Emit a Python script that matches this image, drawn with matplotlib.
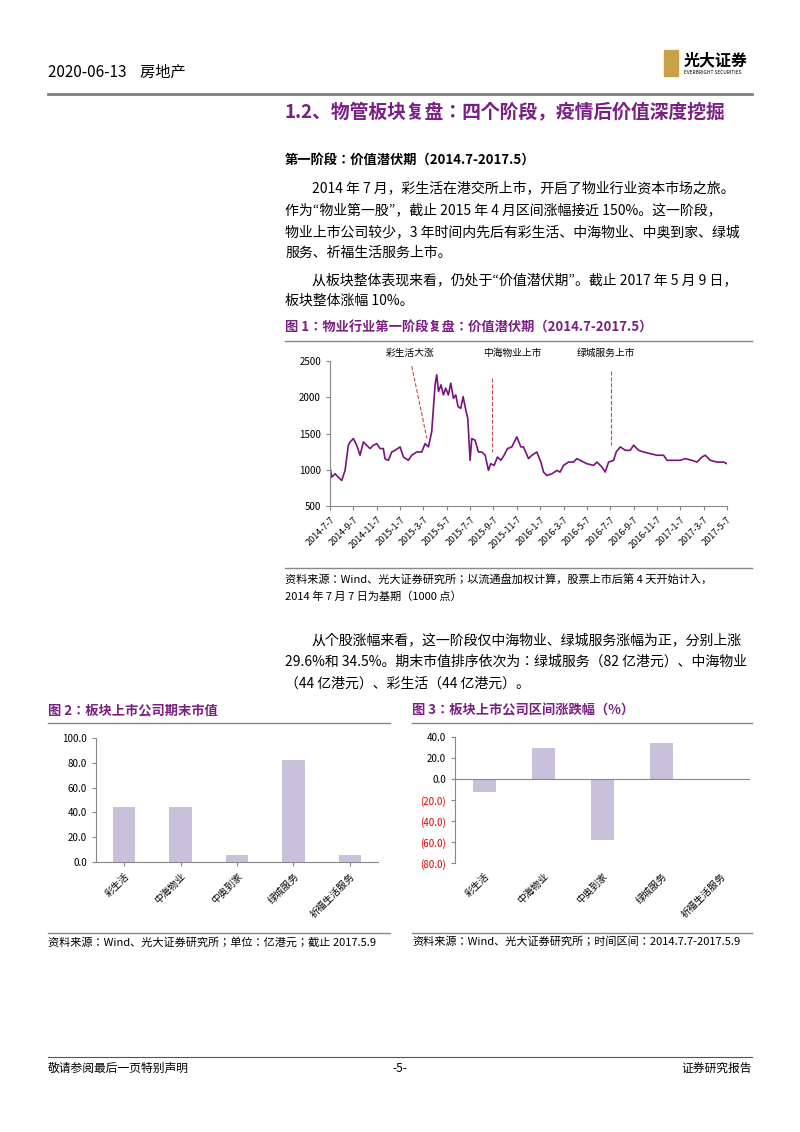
import matplotlib
matplotlib.use("Agg")
import matplotlib.pyplot as plt
from matplotlib import font_manager as fm
from matplotlib.patches import Rectangle

names = sorted({f.name for f in fm.fontManager.ttflist if "CJK" in f.name})
cjk = next((n for n in names if "SC" in n), names[0] if names else "DejaVu Sans")
plt.rcParams["font.family"] = [cjk, "DejaVu Sans"]
plt.rcParams["axes.unicode_minus"] = False

W, H = 800, 1132
PURPLE = "#7a1f84"
BAR = "#c9c0dc"

# ---------- data ----------
# line chart: months since 2014-7-7, index value
months = [0.0, 0.14, 0.43, 0.71, 1.0, 1.29, 1.57, 1.71, 2.0, 2.29, 2.57, 2.86, 3.14, 3.43, 3.71, 4.0, 4.29,
          4.57, 4.71, 5.0, 5.29, 5.57, 6.0, 6.29, 6.71, 7.0, 7.43, 7.86, 8.14, 8.43, 8.71, 9.0, 9.14, 9.29,
          9.51, 9.71, 9.91, 10.14, 10.34, 10.57, 10.77, 10.97, 11.2, 11.4, 11.63, 11.8, 12.0, 12.14, 12.43,
          12.71, 13.0, 13.29, 13.57, 13.77, 14.06, 14.34, 14.63, 14.91, 15.2, 15.57, 16.0, 16.34, 16.57,
          17.0, 17.29, 17.71, 18.06, 18.29, 18.57, 19.0, 19.43, 19.71, 20.0, 20.43, 20.86, 21.14, 21.43,
          22.0, 22.57, 22.86, 23.29, 23.57, 23.86, 24.29, 24.51, 24.86, 25.29, 25.71, 26.0, 26.43, 26.86,
          27.43, 28.0, 28.57, 28.86, 29.43, 30.0, 30.43, 31.0, 31.43, 31.86, 32.14, 32.57, 33.14, 33.71,
          34.0]
values = [1037, 898, 944, 898, 852, 990, 1338, 1380, 1430, 1338, 1200, 1384, 1338, 1292, 1338, 1360,
          1292, 1292, 1150, 1130, 1245, 1268, 1315, 1176, 1130, 1200, 1245, 1245, 1360, 1315, 1523, 2171,
          2310, 2079, 2171, 2032, 2125, 2032, 2194, 1986, 2032, 1870, 1847, 2009, 1824, 1708, 1130, 1430,
          1407, 1245, 1245, 1200, 991, 1083, 1060, 1176, 1130, 1200, 1292, 1315, 1454, 1315, 1315, 1153,
          1200, 1245, 1106, 968, 921, 944, 991, 968, 1060, 1106, 1106, 1153, 1130, 1083, 1060, 1106, 1037,
          968, 1106, 1130, 1245, 1315, 1268, 1268, 1338, 1268, 1245, 1222, 1200, 1200, 1130, 1130, 1130,
          1153, 1130, 1106, 1176, 1200, 1130, 1106, 1106, 1083]
tick_labels = ["2014-7-7", "2014-9-7", "2014-11-7", "2015-1-7", "2015-3-7", "2015-5-7", "2015-7-7",
               "2015-9-7", "2015-11-7", "2016-1-7", "2016-3-7", "2016-5-7", "2016-7-7", "2016-9-7",
               "2016-11-7", "2017-1-7", "2017-3-7", "2017-5-7"]
events = ["彩生活大涨", "中海物业上市", "绿城服务上市"]
event_month = [8.3, 13.86, 24.1]

companies = ["彩生活", "中海物业", "中奥到家", "绿城服务", "祈福生活服务"]
mktcap = [44, 44, 6, 82, 6]
change = [-12.0, 29.6, -58.0, 34.5, 0.0]

fig = plt.figure(figsize=(8, 11.32), dpi=100)

def T(x, y, s, **kw):
    kw.setdefault("fontsize", 10)
    kw.setdefault("va", "center")
    fig.text(x / W, 1 - y / H, s, **kw)

def HL(x0, x1, y, color="#888888", lw=1.0):
    fig.add_artist(plt.Line2D([x0 / W, x1 / W], [1 - y / H, 1 - y / H], color=color, lw=lw))

def AX(x0, y0, x1, y1):
    return fig.add_axes([x0 / W, 1 - y1 / H, (x1 - x0) / W, (y1 - y0) / H])

# header
T(48, 72, "2020-06-13    房地产", fontsize=11)
HL(48, 752, 94, color="#808080", lw=2)
fig.add_artist(Rectangle((664 / W, 1 - 76 / H), 14 / W, 26 / H, color="#c8a24a"))
T(684, 60, "光大证券", fontsize=11.5, fontweight="bold")
T(684, 72, "EVERBRIGHT SECURITIES", fontsize=3.5)

T(285, 113, "1.2、物管板块复盘：四个阶段，疫情后价值深度挖掘", fontsize=13.5, fontweight="bold", color=PURPLE)
T(285, 160, "第一阶段：价值潜伏期（2014.7-2017.5）", fontsize=9.5, fontweight="bold")
T(312, 188, "2014 年 7 月，彩生活在港交所上市，开启了物业行业资本市场之旅。")
T(285, 210, "作为“物业第一股”，截止 2015 年 4 月区间涨幅接近 150%。这一阶段，")
T(285, 232, "物业上市公司较少，3 年时间内先后有彩生活、中海物业、中奥到家、绿城")
T(285, 253, "服务、祈福生活服务上市。")
T(312, 280, "从板块整体表现来看，仍处于“价值潜伏期”。截止 2017 年 5 月 9 日，")
T(285, 301, "板块整体涨幅 10%。")
T(285, 328, "图 1：物业行业第一阶段复盘：价值潜伏期（2014.7-2017.5）", fontsize=9.5, fontweight="bold", color=PURPLE)
HL(285, 752, 341)
HL(285, 752, 568)
T(285, 579, "资料来源：Wind、光大证券研究所；以流通盘加权计算，股票上市后第 4 天开始计入，", fontsize=8)
T(285, 597, "2014 年 7 月 7 日为基期（1000 点）", fontsize=8)

T(312, 640, "从个股涨幅来看，这一阶段仅中海物业、绿城服务涨幅为正，分别上涨")
T(285, 662, "29.6%和 34.5%。期末市值排序依次为：绿城服务（82 亿港元）、中海物业")
T(285, 684, "（44 亿港元）、彩生活（44 亿港元）。")

T(48, 710, "图 2：板块上市公司期末市值", fontsize=9.5, fontweight="bold", color=PURPLE)
T(412, 710, "图 3：板块上市公司区间涨跌幅（%）", fontsize=9.5, fontweight="bold", color=PURPLE)
HL(48, 390, 723)
HL(412, 752, 723)
HL(48, 390, 933)
HL(412, 752, 933)
T(48, 942, "资料来源：Wind、光大证券研究所；单位：亿港元；截止 2017.5.9", fontsize=8)
T(412, 942, "资料来源：Wind、光大证券研究所；时间区间：2014.7.7-2017.5.9", fontsize=8)

HL(48, 752, 1057, color="#555555", lw=0.8)
T(48, 1068, "敬请参阅最后一页特别声明", fontsize=8.5)
T(400, 1068, "-5-", fontsize=8.5, ha="center")
T(752, 1068, "证券研究报告", fontsize=8.5, ha="right")

def style(ax):
    for s in ["top", "right"]:
        ax.spines[s].set_visible(False)
    for s in ["left", "bottom"]:
        ax.spines[s].set_color("#888888")
        ax.spines[s].set_linewidth(0.8)
    ax.tick_params(labelsize=7, length=3, color="#888888")

# line chart
ax = AX(330, 361, 727, 506)
ax.plot(months, values, color="#7b117f", lw=1.2)
ax.set_ylim(500, 2500)
ax.set_xlim(0, 34)
ax.set_yticks([500, 1000, 1500, 2000, 2500])
ax.set_xticks(range(0, 35, 2))
ax.set_xticklabels(tick_labels, rotation=45, ha="right", rotation_mode="anchor")
style(ax)
ax.tick_params(axis="x", labelsize=6.5)
ax.plot([7.0, event_month[0]], [2430, 1430], ls="--", color="#c0504d", lw=0.8)
ax.plot([event_month[1]] * 2, [2264, 1245], ls="--", color="#c0504d", lw=0.8)
ax.plot([event_month[2]] * 2, [2356, 1338], ls="--", color="#c0504d", lw=0.8)
for e, xm in zip(events, [6.9, 15.6, 23.6]):
    ax.text(xm, 2540, e, fontsize=7, ha="center", va="bottom", clip_on=False)

# bar chart 2
ax2 = AX(96, 738, 378, 862)
ax2.bar(range(5), mktcap, width=0.4, color=BAR)
ax2.set_ylim(0, 100)
ax2.set_xlim(-0.5, 4.5)
ax2.set_yticks(range(0, 101, 20))
ax2.set_yticklabels([f"{v:.1f}" for v in range(0, 101, 20)])
ax2.set_xticks(range(5))
ax2.set_xticklabels(companies, rotation=45, ha="right", rotation_mode="anchor")
style(ax2)

# bar chart 3
ax3 = AX(455, 737, 750, 863)
ax3.bar(range(5), change, width=0.4, color=BAR)
ax3.set_ylim(-80, 40)
ax3.set_xlim(-0.5, 4.5)
ax3.axhline(0, color="#888888", lw=0.8)
yt = list(range(-80, 41, 20))
ax3.set_yticks(yt)
ax3.set_yticklabels([f"{v:.1f}" if v >= 0 else f"({-v:.1f})" for v in yt])
for lab, v in zip(ax3.get_yticklabels(), yt):
    if v < 0:
        lab.set_color("#e00000")
ax3.set_xticks(range(5))
ax3.set_xticklabels(companies, rotation=45, ha="right", rotation_mode="anchor")
style(ax3)
ax3.spines["bottom"].set_visible(False)
ax3.tick_params(axis="x", length=0, pad=6)

fig.savefig("out.png", dpi=100)
